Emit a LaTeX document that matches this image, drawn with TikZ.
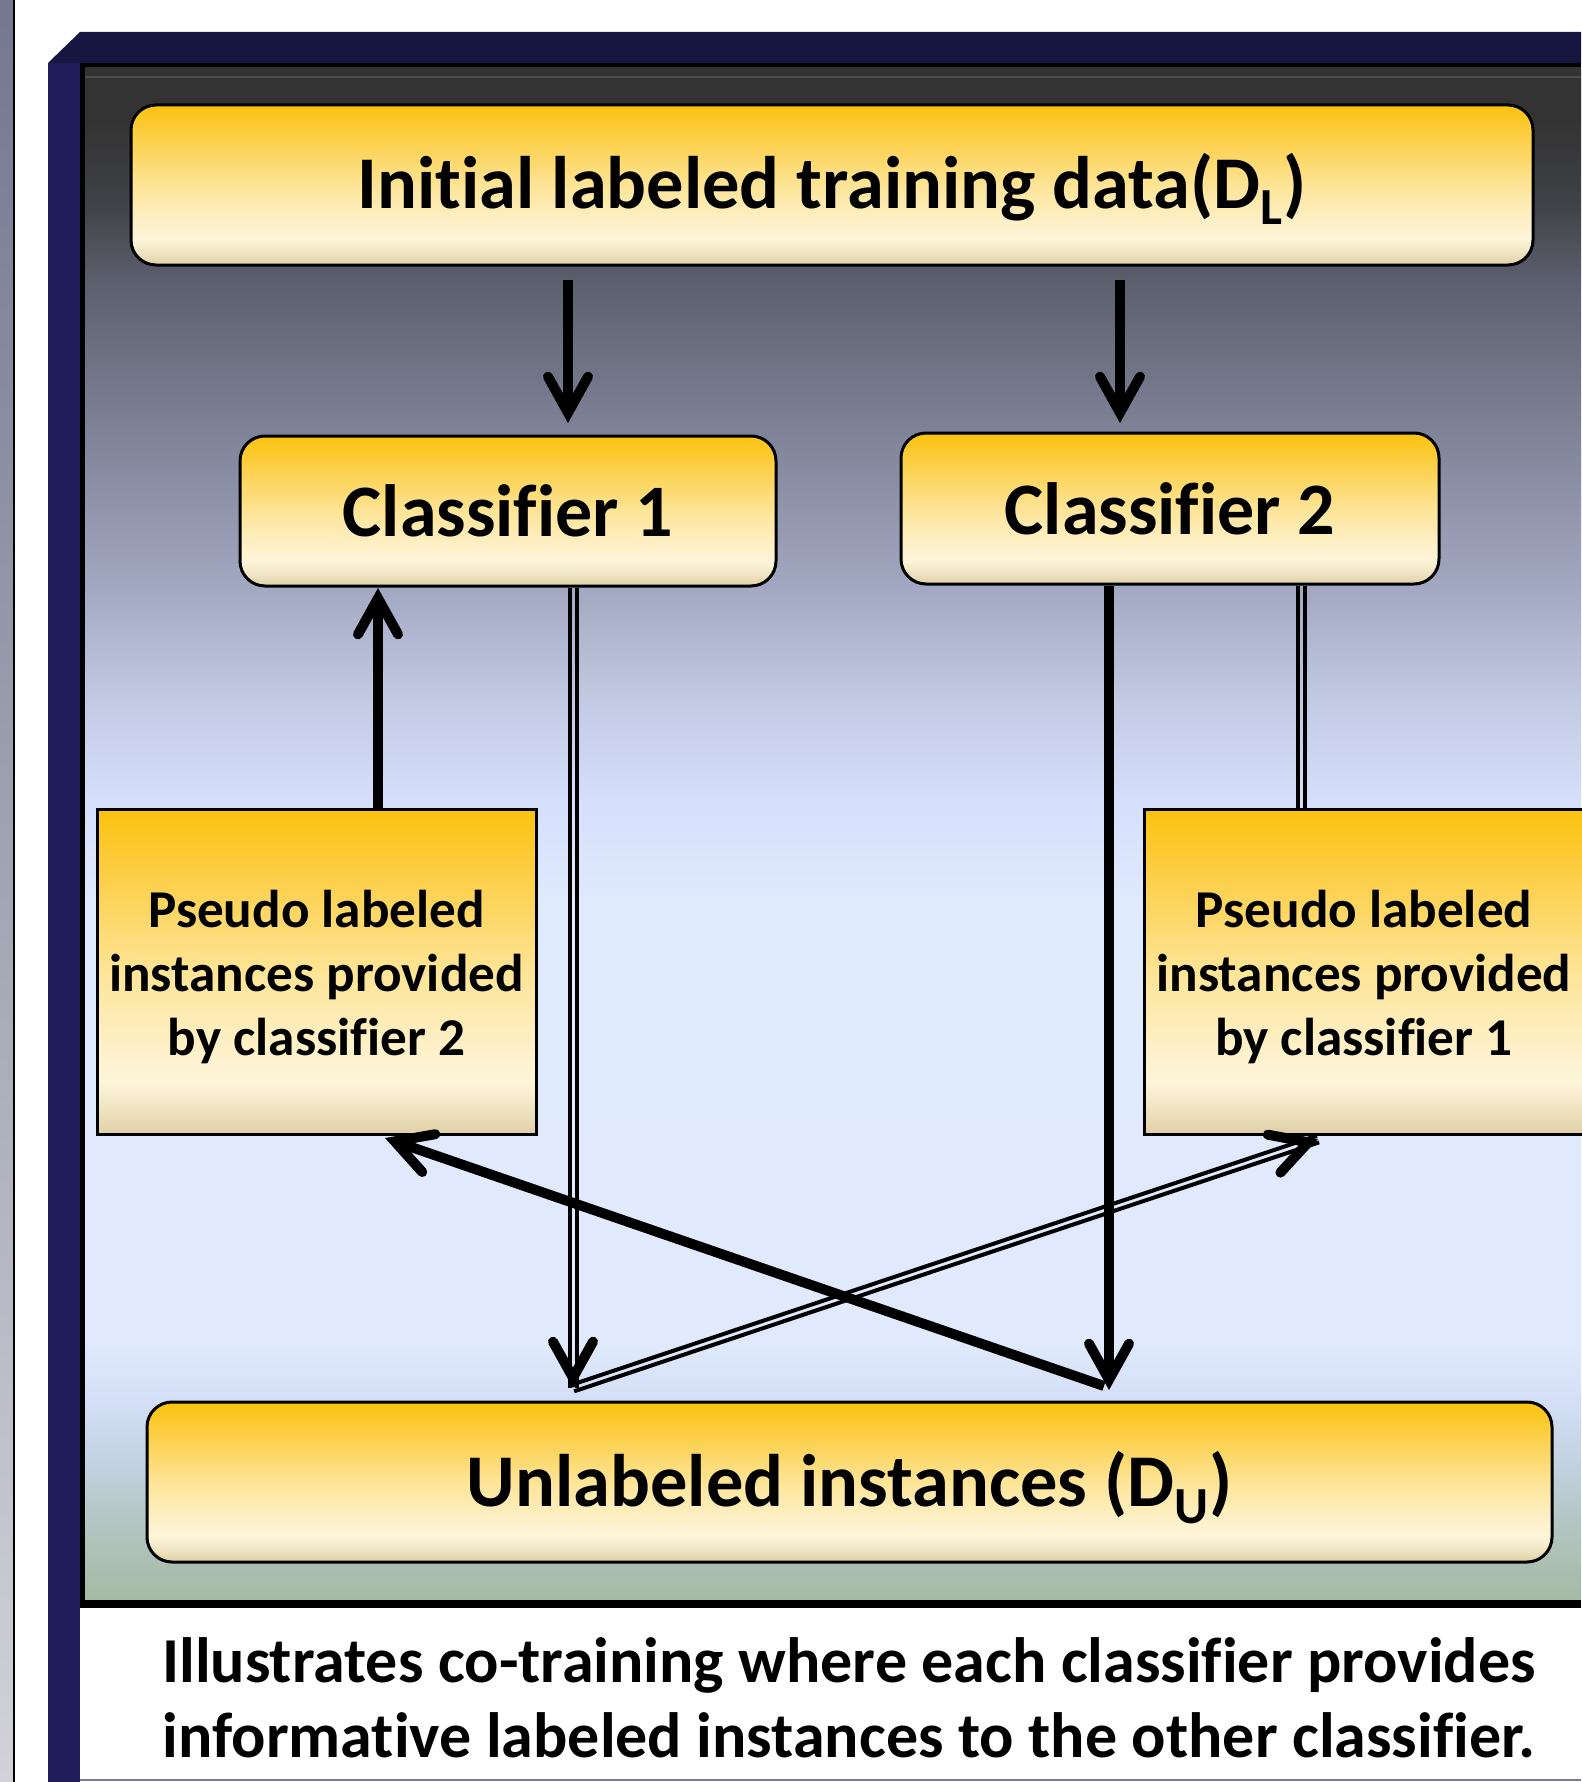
\documentclass[tikz,border=0pt]{standalone}
\usepackage{fontspec}
\setmainfont{Carlito}[Ligatures=CommonOff]
\usetikzlibrary{arrows.meta}

% colours
\definecolor{frametop}{HTML}{161640}
\definecolor{frameside}{HTML}{1F1E5A}
\definecolor{stripT}{HTML}{737890}
\definecolor{stripB}{HTML}{D2D2D8}
\definecolor{gA}{HTML}{DFCFA6}
\definecolor{gB}{HTML}{ECE0BC}
\definecolor{gC}{HTML}{FDF5DA}
\definecolor{gD}{HTML}{FEF0C6}
\definecolor{gE}{HTML}{FDE496}
\definecolor{gF}{HTML}{FCD253}
\definecolor{gG}{HTML}{FBC20E}
\definecolor{pA}{HTML}{A5BAA3}
\definecolor{pB}{HTML}{B4C6C4}
\definecolor{pC}{HTML}{C6D4E6}
\definecolor{pD}{HTML}{D5E0F8}
\definecolor{pE}{HTML}{E0EAFC}
\definecolor{pF}{HTML}{E0EAFD}
\definecolor{pG}{HTML}{D6DFFB}
\definecolor{pH}{HTML}{C2CAE4}
\definecolor{pI}{HTML}{A3A8C2}
\definecolor{pJ}{HTML}{7F8397}
\definecolor{pK}{HTML}{5C5F6D}
\definecolor{pL}{HTML}{404146}
\definecolor{pM}{HTML}{333333}

% shadings
\pgfdeclareverticalshading{goldbox}{100bp}{color(0bp)=(gA); color(25bp)=(gA); color(28bp)=(gB); color(33bp)=(gC); color(39bp)=(gD); color(50bp)=(gE); color(62.5bp)=(gF); color(75bp)=(gG); color(100bp)=(gG)}
\pgfdeclareverticalshading{panel}{100bp}{color(0bp)=(pA); color(25bp)=(pA); color(27.55bp)=(pB); color(29.85bp)=(pC); color(31.65bp)=(pD); color(33.4bp)=(pE); color(47.8bp)=(pF); color(51.05bp)=(pG); color(54.3bp)=(pH); color(58.05bp)=(pI); color(63.1bp)=(pJ); color(68bp)=(pK); color(70.65bp)=(pL); color(73.25bp)=(pM); color(100bp)=(pM)}
\pgfdeclareverticalshading{sidestrip}{100bp}{color(0bp)=(stripB); color(25bp)=(stripB); color(75bp)=(stripT); color(100bp)=(stripT)}

\begin{document}
\begin{tikzpicture}[x=0.5pt,y=-0.5pt,
    box node/.style={draw,line width=1.5pt,rounded corners=12.5pt,shade,shading=goldbox,align=center,inner sep=0pt},
    pseudo node/.style={draw,line width=1.5pt,shade,shading=goldbox,align=center,inner sep=0pt,
      minimum width=219.5pt,minimum height=162.5pt,font=\fontsize{26.6}{32}\selectfont\bfseries},
    flow/.style={line width=5pt,-{Straight Barb[length=18pt,width=20pt,line cap=round]}},
    twin line/.style={line width=2pt}]
  \useasboundingbox (0,0) rectangle (1581,1782);

  % frame and background
  \fill[white] (0,0) rectangle (1581,1782);
  \shade[shading=sidestrip] (0,0) rectangle (13,1782);
  \draw[line width=1pt] (14,0) -- (14,1782);
  \fill[frametop] (48,63) -- (80,32) -- (1581,32) -- (1581,63) -- cycle;
  \fill[frameside] (48,63) rectangle (80,1782);
  \fill[black] (80,63) rectangle (1581,1608);
  \shade[shading=panel] (85,68) rectangle (1581,1599);
  \draw[line width=1pt,black!70] (85,77) -- (1581,77);
  \fill[white] (80,1608) rectangle (1581,1779);
  \draw[line width=1pt,frameside!60] (80,1780) -- (1581,1780);

  % boxes
  \node[box node,minimum width=701pt,minimum height=80pt,text height=30pt,text depth=7pt,font=\fontsize{37.2}{44}\selectfont\bfseries] (init) at (832,185) {Initial labeled training data(D\textsubscript{L})};
  \node[box node,minimum width=268pt,minimum height=75pt,font=\fontsize{37}{44}\selectfont\bfseries] (c1) at (508,511) {Classifier 1};
  \node[box node,minimum width=269pt,minimum height=75.5pt,font=\fontsize{37}{44}\selectfont\bfseries] (c2) at (1170,508.5) {Classifier 2};
  \node[pseudo node] (p1) at (316.5,971.5) {\rule{0pt}{24pt}Pseudo labeled\\instances provided\\by classifier 2};
  \node[pseudo node] (p2) at (1364,971.5) {\rule{0pt}{24pt}Pseudo labeled\\instances provided\\by classifier 1};
  \node[box node,minimum width=702.5pt,minimum height=80pt,text height=31pt,text depth=6.5pt,font=\fontsize{37.2}{44}\selectfont\bfseries] (du) at (849.5,1482) {Unlabeled instances (D\textsubscript{U})};
  \node[align=center,font=\fontsize{32}{37.5}\selectfont\bfseries] (caption) at (849,1698) {Illustrates co-training where each classifier provides\\informative labeled instances to the other classifier.};

  % connector ends
  \coordinate (k1) at (568,423);
  \coordinate (k2) at (1120,423);
  \coordinate (u1) at (378,588);
  \coordinate (d1) at (573,1388);
  \coordinate (d2) at (1109,1390);
  \coordinate (f2) at (1104,1386);
  \coordinate (v2) at (1301,584);
  \coordinate (e1) at (385,1138);
  \coordinate (e2) at (1318,1139);

  % double lines
  \draw[twin line,transform canvas={xshift=-1.75pt}] (d1 |- c1.south) -- (d1);
  \draw[twin line,transform canvas={xshift=1.75pt}] (d1 |- c1.south) -- (d1);
  \draw[twin line,transform canvas={xshift=-1.75pt}] (v2 |- c2.south) -- (v2 |- p2.north);
  \draw[twin line,transform canvas={xshift=1.75pt}] (v2 |- c2.south) -- (v2 |- p2.north);
  \draw[twin line,transform canvas={shift={(-0.555pt,1.66pt)}}] (d1) -- (e2);
  \draw[twin line,transform canvas={shift={(0.555pt,-1.66pt)}}] (d1) -- (e2);
  \draw[flow] (d1) ++(0,-1) -- (d1);
  \draw[flow] (e2) ++(-3,1) -- (e2);

  % thick arrows
  \draw[flow,shorten <=6.5pt] (k1 |- init.south) -- (k1);
  \draw[flow,shorten <=6.5pt] (k2 |- init.south) -- (k2);
  \draw[flow] (u1 |- p1.north) -- (u1);
  \draw[flow] (d2 |- c2.south) -- (d2);
  \draw[flow] (f2) -- (e1);
\end{tikzpicture}
\end{document}
